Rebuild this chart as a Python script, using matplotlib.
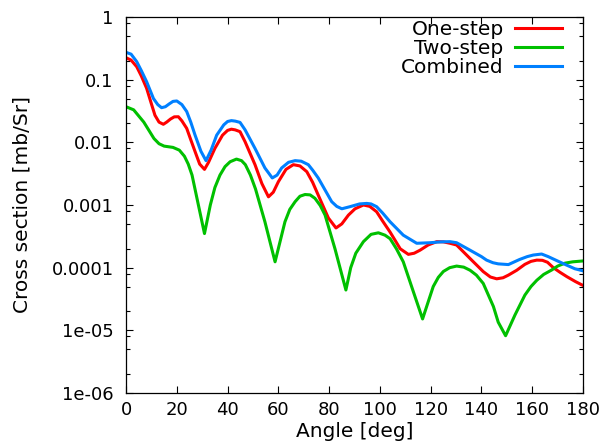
import numpy as np
import matplotlib
matplotlib.use('Agg')
import matplotlib.pyplot as plt
from matplotlib.ticker import FixedLocator, LogLocator, NullFormatter

# one-step
ang_one = [0, 2, 4.2, 6, 8.1, 10, 11.4, 13, 14.7, 16, 17.5, 19, 20.6, 22, 23.9, 25.5,
           27.2, 29, 30.9, 32.5, 35, 38, 40, 41.5, 43, 44.9, 46.9, 50.8, 53.5, 56.1,
           58, 60, 63, 65.9, 68.5, 71.2, 73.5, 75.7, 79.7, 82.7, 85, 87.6, 90.2,
           93.5, 96, 98.7, 101, 104, 108, 111.2, 113.5, 115.8, 119, 122.4, 125,
           127.6, 130.2, 135.5, 140.7, 143.5, 146, 148.5, 150.6, 153.9, 157.1, 159.5,
           161.8, 164, 166, 168.3, 171, 173.6, 177, 180]
one_step = [0.224, 0.205, 0.161, 0.115, 0.073, 0.041, 0.027, 0.021, 0.0194, 0.021,
            0.0235, 0.0255, 0.0256, 0.022, 0.0167, 0.011, 0.0071, 0.0045, 0.0037,
            0.0048, 0.008, 0.013, 0.0155, 0.0162, 0.0158, 0.0148, 0.0102, 0.0044,
            0.0022, 0.00135, 0.0016, 0.00235, 0.0037, 0.0044, 0.0042, 0.0034, 0.0023,
            0.00144, 0.00062, 0.00043, 0.0005, 0.00069, 0.00087, 0.001, 0.00095,
            0.00078, 0.00056, 0.00037, 0.0002, 0.000163, 0.00017, 0.00019, 0.00023,
            0.00026, 0.000258, 0.000245, 0.00023, 0.00014, 0.0000865, 0.000071,
            0.0000664, 0.000069, 0.000076, 0.000091, 0.000113, 0.000126, 0.000132,
            0.000131, 0.000122, 0.0001, 0.000084, 0.000072, 0.00006, 0.000052]

# two-step
ang_two = [0, 3, 7, 11, 13, 15, 18.5, 21, 23, 24.5, 26, 28.5, 30.9, 33.2, 35, 37, 39,
           41, 43.5, 45.5, 47, 49, 51, 54.7, 58.7, 62.6, 64.5, 66.6, 68.5, 70.5, 72.5,
           74.4, 76.5, 78.4, 82.3, 86.6, 88.5, 90.5, 93.5, 96.5, 99.4, 102, 104,
           106.5, 109.2, 113.2, 116.8, 121, 123, 125, 127.5, 130.2, 133, 135.5, 138,
           140.7, 144.7, 146.6, 149.5, 153.2, 157.1, 159.5, 161.8, 164.5, 167.7,
           170, 172.9, 176, 180]
two_step = [0.037, 0.033, 0.021, 0.0115, 0.0095, 0.0087, 0.0083, 0.0075, 0.006, 0.0045,
            0.003, 0.001, 0.00035, 0.001, 0.0019, 0.003, 0.0041, 0.0049, 0.0054,
            0.0051, 0.0044, 0.003, 0.0018, 0.00054, 0.000124, 0.00054, 0.00085,
            0.00113, 0.00138, 0.00147, 0.00145, 0.00128, 0.00098, 0.00069, 0.0002,
            0.000044, 0.0001, 0.00017, 0.00026, 0.00034, 0.00036, 0.00033, 0.00029,
            0.0002, 0.000124, 0.000041, 0.0000152, 0.00005, 0.00007, 0.000087,
            0.0001, 0.000106, 0.000102, 0.000091, 0.000076, 0.000056, 0.000024,
            0.0000135, 0.0000082, 0.0000176, 0.0000365, 0.00005, 0.000063, 0.000078,
            0.000092, 0.000106, 0.000118, 0.000124, 0.000128]

# combined
ang_comb = [0, 2, 4.2, 6, 8.1, 10.8, 12.5, 14.0, 15.5, 17, 18.5, 20.0, 22, 23.9, 25.5,
            27.2, 29.5, 31.5, 33.5, 35.7, 38.5, 40, 41.5, 43, 44.9, 46.9, 50.8, 54.7,
            57.6, 59.5, 61.3, 64, 66.6, 69, 71.8, 73.5, 75.7, 81, 83, 85, 88.2, 92,
            94.8, 96.5, 98.7, 101, 104, 109.2, 114.5, 119.7, 124, 127.6, 130.2,
            135.5, 140, 142, 144.5, 146.6, 150.6, 155, 158, 160.4, 163.7, 166.3,
            170.3, 173.5, 176.8, 180]
combined = [0.273, 0.255, 0.194, 0.14, 0.093, 0.050, 0.04, 0.0357, 0.037, 0.041, 0.045,
            0.0457, 0.04, 0.031, 0.021, 0.013, 0.0072, 0.0051, 0.0075, 0.013, 0.019,
            0.0215, 0.0222, 0.0218, 0.0208, 0.0158, 0.008, 0.0039, 0.0027, 0.003,
            0.0039, 0.0048, 0.0051, 0.005, 0.0044, 0.0036, 0.0027, 0.00113, 0.00095,
            0.00087, 0.00094, 0.00104, 0.00106, 0.00104, 0.00094, 0.00075, 0.00054,
            0.00033, 0.000245, 0.00025, 0.000258, 0.00026, 0.00025, 0.00019, 0.00015,
            0.000132, 0.00012, 0.000115, 0.000112, 0.000135, 0.00015, 0.000159,
            0.000165, 0.00015, 0.000126, 0.00011, 0.000096, 0.000089]

yticks = [1, 0.1, 0.01, 0.001, 0.0001, 1e-05, 1e-06]
ylabels = ['1', '0.1', '0.01', '0.001', '0.0001', '1e-05', '1e-06']
xticks = list(range(0, 181, 20))

plt.rcParams['font.family'] = 'DejaVu Sans'
fig = plt.figure(figsize=(6.01, 4.47), dpi=100)
ax = fig.add_axes([0.2097, 0.1208, 0.7604, 0.8412])

ax.plot(ang_one, one_step, color='#ff0000', lw=2.2, label='One-step')
ax.plot(ang_two, two_step, color='#00c000', lw=2.2, label='Two-step')
ax.plot(ang_comb, combined, color='#0080ff', lw=2.2, label='Combined')

ax.set_yscale('log')
ax.set_xlim(0, 180)
ax.set_ylim(1e-6, 1)
ax.yaxis.set_major_locator(FixedLocator(yticks))
ax.set_yticklabels(ylabels)
ax.yaxis.set_minor_locator(LogLocator(base=10, subs=[2, 5, 8]))
ax.yaxis.set_minor_formatter(NullFormatter())
ax.set_xticks(xticks)

ax.tick_params(which='both', direction='in', top=True, right=True, labelsize=13)
ax.tick_params(which='major', length=5, width=0.8)
ax.tick_params(which='minor', length=3, width=0.8)
ax.tick_params(axis='x', pad=6)
ax.tick_params(axis='y', pad=9)
for s in ax.spines.values():
    s.set_linewidth(0.9)

ax.set_xlabel('Angle [deg]', fontsize=14.5, labelpad=2)
ax.set_ylabel('Cross section [mb/Sr]', fontsize=14.5, labelpad=14)

ax.legend(loc='upper right', bbox_to_anchor=(0.963, 1.002), frameon=False,
          markerfirst=False, fontsize=14.5, handlelength=2.35, handletextpad=0.55,
          labelspacing=0.0, borderpad=0.2, borderaxespad=0)

plt.savefig('out.png', dpi=100)
